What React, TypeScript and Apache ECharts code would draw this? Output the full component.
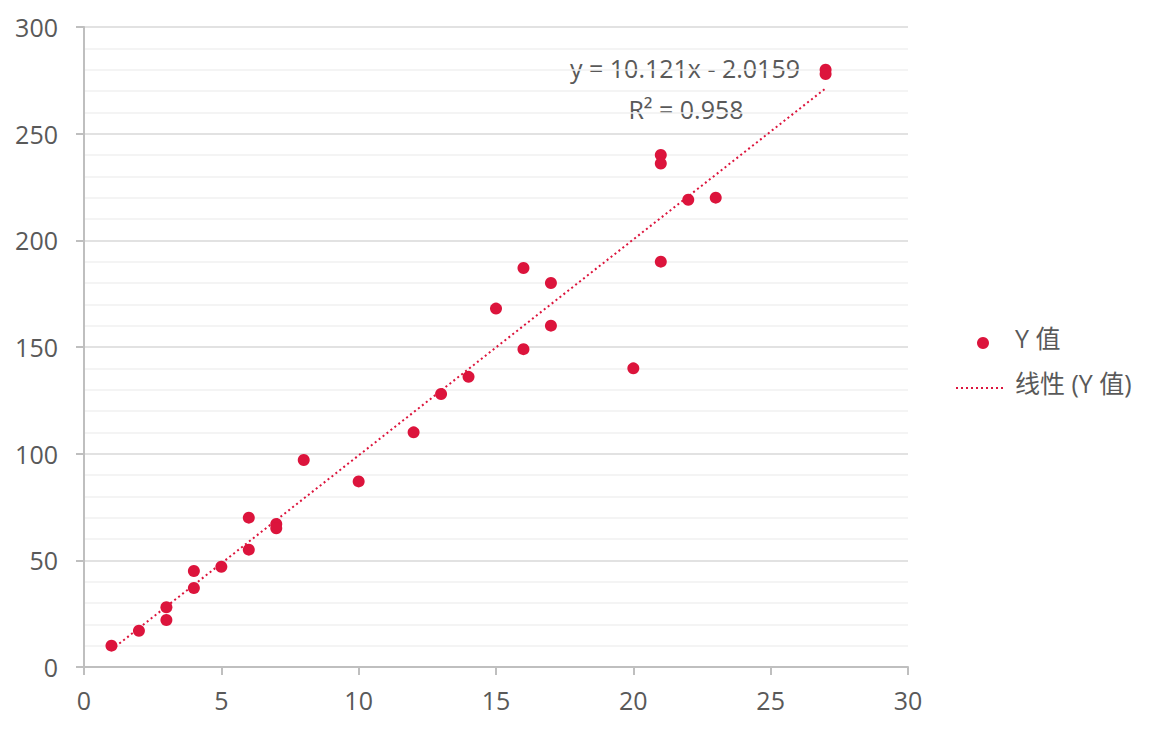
import React, { useEffect, useRef } from "react";
import * as echarts from "echarts";

const xValues = [1, 2, 3, 3, 4, 4, 5, 6, 6, 7, 7, 8, 10, 12, 13, 14, 15, 16, 16, 17, 17, 20, 21, 21, 21, 22, 23, 27, 27];
const yValues = [10, 17, 28, 22, 45, 37, 47, 70, 55, 67, 65, 97, 87, 110, 128, 136, 168, 187, 149, 180, 160, 140, 240, 236, 190, 219, 220, 280, 278];
const trendSlope = 10.121;
const trendIntercept = -2.0159;
const trendRange = [1, 27];
const equationText = "y = 10.121x - 2.0159";
const r2Text = "R² = 0.958";
const seriesName = "Y 值";
const trendName = "线性 (Y 值)";

const RED = "#dc143c";
const TEXT = "#595959";
const FONT = "'Open Sans', 'Noto Sans CJK SC', sans-serif";
const FS = 25;

export default function App() {
  const ref = useRef<HTMLDivElement>(null);
  useEffect(() => {
    const chart = echarts.init(ref.current!, null, { renderer: "svg" });
    const points = xValues.map((x, i) => [x, yValues[i]]);
    const trend = trendRange.map((x) => [x, trendSlope * x + trendIntercept]);
    chart.setOption({
      animation: false,
      backgroundColor: "#fff",
      grid: { left: 84, right: 250, top: 27, bottom: 65 },
      xAxis: {
        type: "value",
        min: 0,
        max: 30,
        interval: 5,
        axisLine: { show: true, lineStyle: { color: "#bfbfbf", width: 2 } },
        axisTick: { show: true, length: 8, lineStyle: { color: "#bfbfbf", width: 2 } },
        axisLabel: { color: TEXT, fontSize: FS, fontFamily: FONT, margin: 20 },
        splitLine: { show: false },
      },
      yAxis: {
        type: "value",
        min: 0,
        max: 300,
        interval: 50,
        axisLine: { show: true, lineStyle: { color: "#bfbfbf", width: 2 } },
        axisTick: { show: true, length: 8, lineStyle: { color: "#bfbfbf", width: 2 } },
        axisLabel: { color: TEXT, fontSize: FS, fontFamily: FONT, margin: 26 },
        splitLine: { show: true, lineStyle: { color: "#d9d9d9", width: 1.5 } },
        minorTick: { show: false, splitNumber: 5 },
        minorSplitLine: { show: true, lineStyle: { color: "#f0f0f0", width: 1.5 } },
      },
      series: [
        {
          name: seriesName,
          type: "scatter",
          data: points,
          symbol: "circle",
          symbolSize: 12,
          itemStyle: { color: RED, opacity: 1 },
          z: 3,
        },
        {
          name: trendName,
          type: "line",
          data: trend,
          showSymbol: false,
          symbol: "none",
          lineStyle: { color: RED, width: 2, type: [2, 3] },
          z: 2,
        },
      ],
      graphic: [
        { type: "text", x: 685, y: 68, style: { text: equationText, fill: TEXT, font: `${FS}px ${FONT}`, align: "center", verticalAlign: "middle" } },
        { type: "text", x: 686, y: 109, style: { text: r2Text, fill: TEXT, font: `${FS}px ${FONT}`, align: "center", verticalAlign: "middle" } },
        { type: "circle", shape: { cx: 983, cy: 343, r: 6 }, style: { fill: RED } },
        { type: "text", left: 1015, top: 325, style: { text: seriesName, fill: TEXT, font: `${FS}px ${FONT}` } },
        { type: "line", shape: { x1: 956, y1: 388, x2: 1006, y2: 388 }, style: { stroke: RED, lineWidth: 2, lineDash: [2, 3] } },
        { type: "text", left: 1015, top: 370, style: { text: trendName, fill: TEXT, font: `${FS}px ${FONT}` } },
      ],
    });
    return () => chart.dispose();
  }, []);
  return <div ref={ref} style={{ width: 1158, height: 732, position: "absolute", left: 0, top: 0 }} />;
}
